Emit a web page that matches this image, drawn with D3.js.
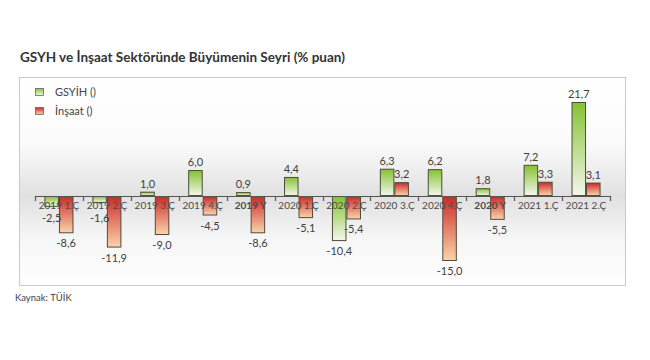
<!DOCTYPE html>
<html>
<head>
<meta charset="utf-8">
<script src="https://cdn.jsdelivr.net/npm/d3@7"></script>
<style>
  body { margin: 0; background: #fff; }
  svg { display: block; font-family: Lato, "Open Sans", sans-serif; }
</style>
</head>
<body>
<svg id="chart" width="650" height="360"></svg>
<script>
const categories = ["2019 1.Ç", "2019 2.Ç", "2019 3.Ç", "2019 4.Ç", "2019 Y", "2020 1.Ç",
  "2020 2.Ç", "2020 3.Ç", "2020 4.Ç", "2020 Y", "2021 1.Ç", "2021 2.Ç"];
const boldCats = ["2019 Y", "2020 Y"];
const gsyih = [-2.5, -1.6, 1.0, 6.0, 0.9, 4.4, -10.4, 6.3, 6.2, 1.8, 7.2, 21.7];
const insaat = [-8.6, -11.9, -9.0, -4.5, -8.6, -5.1, -5.4, 3.2, -15.0, -5.5, 3.3, 3.1];
const seriesNames = ["GSYİH ()", "İnşaat ()"];

const svg = d3.select("#chart");
const fmt = d3.formatLocale({ decimal: ",", thousands: ".", grouping: [3], currency: ["", ""], minus: "-" }).format(".1f");

const defs = svg.append("defs");

// chart box background: grey band around the zero line
const bg = defs.append("linearGradient").attr("id", "bg")
  .attr("x1", 0).attr("y1", 0).attr("x2", 0).attr("y2", 1);
bg.append("stop").attr("offset", "0%").attr("stop-color", "#ffffff");
bg.append("stop").attr("offset", "33%").attr("stop-color", "#fafafa");
bg.append("stop").attr("offset", "57%").attr("stop-color", "#e0e0e0");
bg.append("stop").attr("offset", "77%").attr("stop-color", "#f6f6f6");
bg.append("stop").attr("offset", "100%").attr("stop-color", "#ffffff");

const gradGreen = defs.append("linearGradient").attr("id", "gGreen")
  .attr("x1", 0).attr("y1", 0).attr("x2", 0).attr("y2", 1);
gradGreen.append("stop").attr("offset", "0%").attr("stop-color", "#86c232");
gradGreen.append("stop").attr("offset", "100%").attr("stop-color", "#f3f7ea");

const gradRed = defs.append("linearGradient").attr("id", "gRed")
  .attr("x1", 0).attr("y1", 0).attr("x2", 0).attr("y2", 1);
gradRed.append("stop").attr("offset", "0%").attr("stop-color", "#cc2a2a");
gradRed.append("stop").attr("offset", "100%").attr("stop-color", "#fbd3ab");

// title
svg.append("text")
  .attr("x", 20).attr("y", 62)
  .attr("font-size", 13.5).attr("font-weight", "bold").attr("fill", "#333")
  .text("GSYH ve İnşaat Sektöründe Büyümenin Seyri (% puan)");

// box
svg.append("rect")
  .attr("x", 19.5).attr("y", 77.5).attr("width", 606).attr("height", 208)
  .attr("fill", "url(#bg)").attr("stroke", "#c9c9c9");

// legend
const legend = svg.append("g");
seriesNames.forEach((name, i) => {
  const ly = 88 + i * 19;
  legend.append("rect")
    .attr("x", 35.5).attr("y", ly + 0.5).attr("width", 8).attr("height", 7)
    .attr("fill", i === 0 ? "url(#gGreen)" : "url(#gRed)")
    .attr("stroke", "#666").attr("stroke-width", 0.8);
  legend.append("text")
    .attr("x", 55).attr("y", ly + 8)
    .attr("font-size", 11).attr("fill", "#444")
    .text(name);
});

const x0 = d3.scaleBand().domain(categories).range([35, 610]).padding(0);
const x1 = d3.scaleBand().domain([0, 1]).range([0, x0.bandwidth()]).paddingInner(0).paddingOuter(0.65);
const y = d3.scaleLinear().domain([-15, 21.7]).range([261, 102]);

const data = [];
categories.forEach((c, i) => {
  data.push({ cat: c, s: 0, v: gsyih[i] });
  data.push({ cat: c, s: 1, v: insaat[i] });
});

svg.append("g").selectAll("rect")
  .data(data)
  .join("rect")
  .attr("x", d => x0(d.cat) + x1(d.s) + 0.5)
  .attr("y", d => Math.min(y(d.v), y(0)) + 0.5)
  .attr("width", x1.bandwidth() - 1)
  .attr("height", d => Math.abs(y(d.v) - y(0)) - 1)
  .attr("fill", d => d.s === 0 ? "url(#gGreen)" : "url(#gRed)")
  .attr("stroke", "#4d4d3a").attr("stroke-width", 1);

// axis line with ticks between categories
const axis = d3.axisBottom(x0).tickSize(0).tickFormat("");
svg.append("g").attr("transform", `translate(0,${y(0)})`).call(axis)
  .call(g => g.select(".domain").attr("stroke", "#555").attr("stroke-width", 1.2));
svg.append("g").selectAll("line")
  .data(categories.concat([null]))
  .join("line")
  .attr("x1", (d, i) => Math.round(35 + i * x0.step()) + 0.5)
  .attr("x2", (d, i) => Math.round(35 + i * x0.step()) + 0.5)
  .attr("y1", y(0)).attr("y2", y(0) + 5)
  .attr("stroke", "#555").attr("stroke-width", 1.2);

// category labels
svg.append("g").selectAll("text")
  .data(categories)
  .join("text")
  .attr("x", d => x0(d) + x0.bandwidth() / 2)
  .attr("y", y(0) + 13)
  .attr("text-anchor", "middle")
  .attr("font-size", 10)
  .attr("font-weight", d => boldCats.includes(d) ? "bold" : "normal")
  .attr("fill", "#4a4a4a")
  .text(d => d);

// value labels (negative ones kept below the category labels)
svg.append("g").selectAll("text")
  .data(data)
  .join("text")
  .attr("x", d => x0(d.cat) + x1(d.s) + x1.bandwidth() / 2)
  .attr("y", d => d.v >= 0 ? y(d.v) - 4 : Math.max(y(d.v) + 14, y(0) + 26))
  .attr("text-anchor", "middle")
  .attr("font-size", 11)
  .attr("fill", "#404040")
  .text(d => fmt(d.v));

// source
svg.append("text")
  .attr("x", 15).attr("y", 301)
  .attr("font-size", 9.5).attr("fill", "#444")
  .text("Kaynak: TÜİK");
</script>
</body>
</html>
